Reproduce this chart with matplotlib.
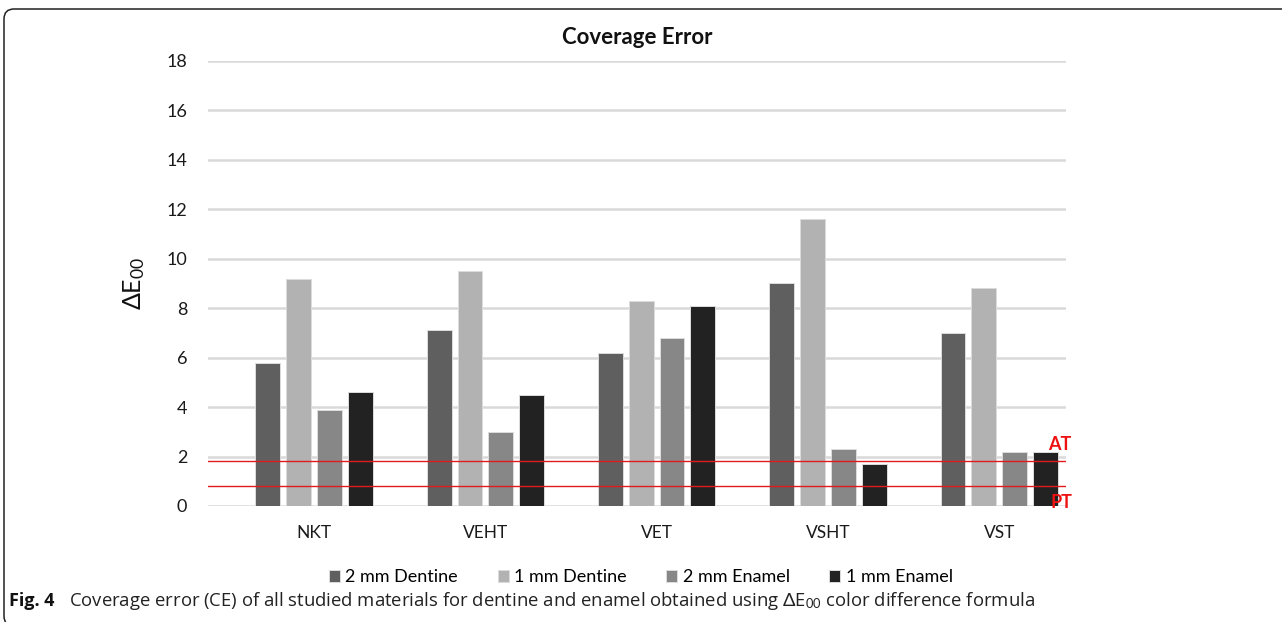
import numpy as np
import matplotlib
matplotlib.use('Agg')
import matplotlib.pyplot as plt
from matplotlib.patches import FancyBboxPatch

# data
materials = ['NKT', 'VEHT', 'VET', 'VSHT', 'VST']
series = ['2 mm Dentine', '1 mm Dentine', '2 mm Enamel', '1 mm Enamel']
dentine_2mm = [5.8, 7.1, 6.2, 9.0, 7.0]
dentine_1mm = [9.2, 9.5, 8.3, 11.6, 8.8]
enamel_2mm = [3.9, 3.0, 6.8, 2.3, 2.2]
enamel_1mm = [4.6, 4.5, 8.1, 1.7, 2.2]
AT = 1.8
PT = 0.8
yticks = [0, 2, 4, 6, 8, 10, 12, 14, 16, 18]

colors = ['#5f5f5f', '#b2b2b2', '#878787', '#222222']

plt.rcParams['font.family'] = ['Lato', 'DejaVu Sans']
plt.rcParams['mathtext.fontset'] = 'custom'
plt.rcParams['mathtext.rm'] = 'Lato'
plt.rcParams['mathtext.it'] = 'Lato'

fig = plt.figure(figsize=(12.82, 6.22), dpi=100)
ax = fig.add_axes([0.1622, 0.1865, 0.6693, 0.7155])

x = np.arange(len(materials))
step = 0.18
width = 0.145
vals = [dentine_2mm, dentine_1mm, enamel_2mm, enamel_1mm]
for i in range(len(series)):
    ax.bar(x + (i - 1.5) * step, vals[i], width, color=colors[i],
           edgecolor='#dcdcdc', linewidth=0.7, label=series[i], zorder=3)

ax.set_ylim(0, 18)
ax.set_xlim(-0.62, 4.39)
ax.set_yticks(yticks)
ax.yaxis.grid(True, color='#d9d9d9', linewidth=1.8, zorder=0)
ax.set_axisbelow(True)
for sp in ax.spines.values():
    sp.set_visible(False)
ax.tick_params(axis='both', length=0, labelsize=13, colors='#1a1a1a')
ax.tick_params(axis='y', pad=15)
ax.tick_params(axis='x', pad=14)
ax.set_xticks(x)
ax.set_xticklabels(materials, fontsize=12.5)

# perceptibility / acceptability thresholds
ax.axhline(AT, color='#e31a1c', linewidth=1.0, zorder=4)
ax.axhline(PT, color='#e31a1c', linewidth=1.0, zorder=4)
ax.text(0.979, AT + 0.7, 'AT', transform=ax.get_yaxis_transform(), color='#ee1111',
        fontsize=13, fontweight='bold', va='center', ha='left')
ax.text(0.982, PT - 0.65, 'PT', transform=ax.get_yaxis_transform(), color='#ee1111',
        fontsize=13, fontweight='bold', va='center', ha='left')

ax.set_ylabel(r'$\Delta$E$_{00}$', fontsize=18, labelpad=14, color='#111111')

fig.text(0.497, 0.939, 'Coverage Error', ha='center', va='center', fontsize=16,
         fontweight='bold', color='#111111')

ax.legend(loc='center', bbox_to_anchor=(0.5, 0.072), bbox_transform=fig.transFigure,
          ncol=4, frameon=False, fontsize=13, handlelength=0.6, handleheight=0.6,
          handletextpad=0.3, columnspacing=2.2)

fig.text(0.007, 0.034, 'Fig. 4', fontsize=13, fontweight='bold', va='center',
         color='#111111', family=['Open Sans', 'DejaVu Sans'])
fig.text(0.054, 0.034, r'Coverage error (CE) of all studied materials for dentine and enamel '
         r'obtained using $\Delta$E$_{00}$ color difference formula',
         fontsize=13.3, va='center', color='#222222', family=['Open Sans', 'DejaVu Sans'])

frame = FancyBboxPatch((4, -4), 1310, 617, boxstyle='round,pad=0,rounding_size=10',
                       transform=None, fill=False, edgecolor='#222222', linewidth=1.1)
fig.patches.append(frame)

fig.savefig('out.png', dpi=100)
